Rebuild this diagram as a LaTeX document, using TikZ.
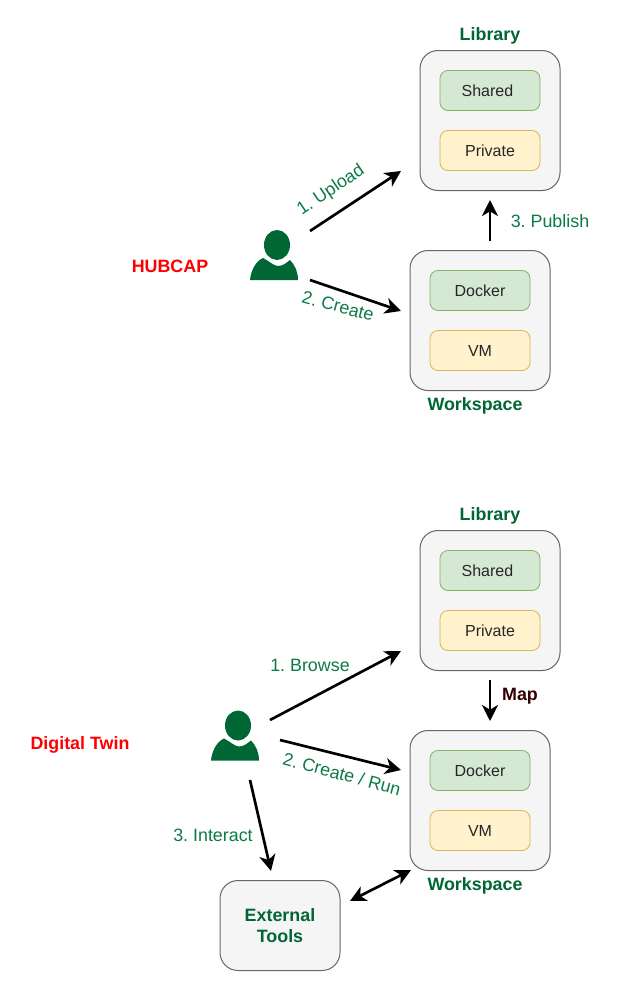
\documentclass[tikz,border=0pt]{standalone}
\usepackage{fontspec}
\setmainfont{Liberation Sans}
\usetikzlibrary{arrows.meta}
\frenchspacing
\definecolor{darkgreen}{HTML}{006633}
\definecolor{labelgreen}{HTML}{0B7A47}
\definecolor{mapred}{HTML}{330000}
\definecolor{outerfill}{HTML}{F5F5F5}
\definecolor{outerline}{HTML}{666666}
\definecolor{greenfill}{HTML}{D5E8D4}
\definecolor{greenline}{HTML}{82B366}
\definecolor{yellowfill}{HTML}{FFF2CC}
\definecolor{yellowline}{HTML}{D6B656}
\newcommand{\bigbold}{\fontsize{13.4}{15.8}\selectfont\bfseries}
\newcommand{\steptext}{\fontsize{13.4}{16}\selectfont}
\tikzset{
outerbox/.style={draw=outerline,fill=outerfill,rounded corners=13.5pt,line width=0.75pt,inner sep=0pt,font=\bigbold,text=darkgreen,align=center},
greenbox/.style={draw=greenline,fill=greenfill,rounded corners=6pt,line width=0.6pt,minimum width=75pt,minimum height=30pt,inner sep=0pt,font=\fontsize{12}{14}\selectfont,text=black!85},
yellowbox/.style={draw=yellowline,fill=yellowfill,rounded corners=6pt,line width=0.6pt,minimum width=75pt,minimum height=30pt,inner sep=0pt,font=\fontsize{12}{14}\selectfont,text=black!85},
title/.style={font=\bigbold,text=darkgreen},
flow/.style={-{Stealth[length=12pt,width=12pt,inset=3.5pt]},line width=2pt},
flowboth/.style={{Stealth[length=12pt,width=12pt,inset=3.5pt]}-{Stealth[length=12pt,width=12pt,inset=3.5pt]},line width=2pt},
step label/.style={text=labelgreen,font=\steptext},
actor/.style={font=\bigbold,text=red},
person/.pic={
\fill[darkgreen] (3,-35) ellipse (13 and 15);
\fill[darkgreen] (-24,0) .. controls (-23,-10) and (-18,-19) .. (-11,-22) .. controls (-5,-19) and (0,-14) .. (4,-14) .. controls (9,-14) and (12,-17) .. (16,-20) .. controls (21,-15) and (24,-8) .. (24,0) -- cycle;
}
}
\begin{document}
\begin{tikzpicture}[x=0.75pt,y=-0.75pt]
\useasboundingbox (0,0) rectangle (622,992);

% top
\node[actor] (hubcap) at (170,266) {HUBCAP};
\pic at (274,280) {person};
\node[outerbox,minimum width=105pt,minimum height=105pt] (library) at (490,120.5) {};
\node[greenbox] (shared) at (490,90.5) {Shared\kern3.8pt\relax};
\node[yellowbox] (private) at (490,150.5) {Private};
\node[title] (librarytitle) at (490,36) {Library};
\node[outerbox,minimum width=105pt,minimum height=105pt] (workspace) at (480,320.5) {};
\node[greenbox] (docker) at (480,290.5) {Docker};
\node[yellowbox] (vm) at (480,350.5) {VM};
\node[title] (workspacetitle) at (475,406) {Workspace};
\coordinate (uploadstart) at (310,231);
\coordinate (uploadend) at (401,171);
\coordinate (createstart) at (310,280);
\coordinate (createend) at (401,311);
\coordinate (publishstart) at (490,241);
\coordinate (publishend) at (490,200);
\draw[flow] (uploadstart) -- (uploadend);
\draw[flow] (createstart) -- (createend);
\draw[flow] (publishstart) -- (publishend);
\node[step label,rotate=34] (uploadlabel) at (331,190.5) {1. Upload};
\node[step label,rotate=-15] (createlabel) at (338,306) {2. Create};
\node[step label] (publishlabel) at (550,221) {3. Publish};

% bottom
\node[actor] (twin) at (80,745) {Digital Twin};
\pic at (235,760.5) {person};
\node[outerbox,minimum width=105pt,minimum height=105pt] (library2) at (490,600.5) {};
\node[greenbox] (shared2) at (490,570.5) {Shared\kern3.8pt\relax};
\node[yellowbox] (private2) at (490,630.5) {Private};
\node[title] (librarytitle2) at (490,516) {Library};
\node[outerbox,minimum width=105pt,minimum height=105pt] (workspace2) at (480,800.5) {};
\node[greenbox] (docker2) at (480,770.5) {Docker};
\node[yellowbox] (vm2) at (480,830.5) {VM};
\node[title] (workspacetitle2) at (475,886) {Workspace};
\node[outerbox,minimum width=90pt,minimum height=67.5pt] (tools) at (280,925.5) {External\\Tools};
\coordinate (browsestart) at (270,720);
\coordinate (browseend) at (401,651);
\coordinate (runstart) at (280,740);
\coordinate (runend) at (401,770);
\coordinate (interactstart) at (250,780);
\coordinate (interactend) at (271,871);
\coordinate (mapstart) at (490,680);
\coordinate (mapend) at (490,721);
\coordinate (toolsend) at (350,901);
\coordinate (workspaceend) at (411,870);
\draw[flow] (browsestart) -- (browseend);
\draw[flow] (runstart) -- (runend);
\draw[flow] (interactstart) -- (interactend);
\draw[flow] (mapstart) -- (mapend);
\draw[flowboth] (toolsend) -- (workspaceend);
\node[step label] (browselabel) at (310,665) {1. Browse};
\node[step label,rotate=-15] (runlabel) at (342,774) {2. Create / Run};
\node[step label] (interactlabel) at (213,835) {3. Interact};
\node[font=\bigbold,text=mapred] (maplabel) at (520,696) {Map};
\end{tikzpicture}
\end{document}
